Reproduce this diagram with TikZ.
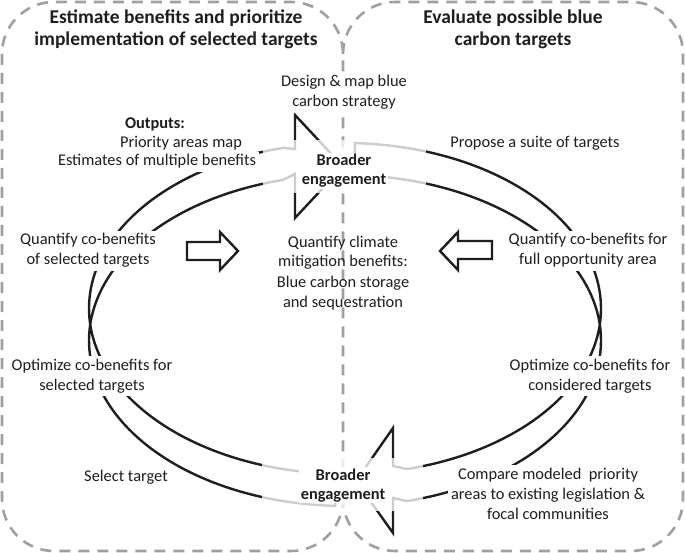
\documentclass[tikz,border=0pt]{standalone}
\usepackage{fontspec}
\setmainfont{Carlito}
\definecolor{bandblack}{HTML}{1E1E1E}
\definecolor{boxgray}{HTML}{A0A0A0}
\begin{document}
\begin{tikzpicture}[x=1pt,y=-1pt,
  box/.style={draw=boxgray, line width=2.6pt, dash pattern=on 11pt off 8pt, rounded corners=52pt},
  band/.style={draw=bandblack, line width=2.4pt, line join=miter},
  hollow/.style={draw=bandblack, fill=white, line width=2.4pt, line join=miter},
  fade/.style={fill=white, fill opacity=0.78},
  lbl/.style={font=\fontsize{16.4}{20}\selectfont, align=center, inner sep=3pt, fill=white, anchor=base, text=bandblack},
  bl/.style={lbl, font=\fontsize{16.4}{19}\selectfont\bfseries},
  ttl/.style={lbl, font=\fontsize{19.5}{22}\selectfont\bfseries, fill=none}
]
\useasboundingbox (0,0) rectangle (685,553);
% dashed boxes
\draw[box] (2,2) rectangle (343,551);
\draw[box] (343,54) -- (343,2) -- (683,2) -- (683,551) -- (343,551) -- (343,499);
% left band (bottom tail -> up the left side -> top arrowhead)
\draw[band] plot[domain=92.2:256, samples=90] ({345+256*cos(\x)},{308.5+165.5*sin(\x)})
  -- (295,149) -- (295,115) -- (343,166.5) -- (295,218) -- (295,174)
  -- plot[domain=256:92.2, samples=90] ({345+256*cos(\x)},{340.5+165.5*sin(\x)}) -- cycle;
% right band (top tail -> down the right side -> bottom arrowhead)
\draw[band] plot[domain=-87.8:76, samples=90] ({345+256*cos(\x)},{308.5+165.5*sin(\x)})
  -- (393,466) -- (393,428) -- (356,481) -- (393,533) -- (393,498)
  -- plot[domain=76:-87.8, samples=90] ({345+256*cos(\x)},{340.5+165.5*sin(\x)}) -- cycle;
% faded zones around "Broader engagement"
\fill[fade] (263,140) rectangle (426,193);
\fill[fade] (262,458) rectangle (423,511);
% hollow arrows
\draw[hollow] (187,242) -- (220,242) -- (220,232) -- (238,251) -- (220,270) -- (220,260) -- (187,260) -- cycle;
\draw[hollow] (492,241) -- (458,241) -- (458,232) -- (440,251) -- (458,270) -- (458,259) -- (492,259) -- cycle;
% titles
\node[ttl] (tl) at (176,46) {Estimate benefits and prioritize\\implementation of selected targets};
\node[ttl] (tr) at (513,46) {Evaluate possible blue\\carbon targets};
% labels
\node[lbl] (design) at (344,107) {Design \& map blue\\carbon strategy};
\node[bl] (outh) at (155,129) {Outputs:};
\node[lbl] (out1) at (181,148) {Priority areas map};
\node[lbl] (out2) at (157,166) {Estimates of multiple benefits};
\node[bl, inner sep=1.5pt] (be1) at (344,185) {Broader\\engagement};
\node[lbl, fill=none] (prop) at (535,148) {Propose a suite of targets};
\node[lbl] (qsel) at (88,265) {Quantify co-benefits\\of selected targets};
\node[lbl, fill=none] (qclim) at (343,307) {Quantify climate\\mitigation benefits:\\Blue carbon storage\\and sequestration};
\node[lbl] (qfull) at (588,265) {Quantify co-benefits for\\full opportunity area};
\node[lbl] (osel) at (92,390) {Optimize co-benefits for\\selected targets};
\node[lbl] (ocon) at (590,390) {Optimize co-benefits for\\considered targets};
\node[lbl, fill=none] (sel) at (126,481) {Select target};
\node[bl, inner sep=1.5pt] (be2) at (343,499) {Broader\\engagement};
\node[lbl] (comp) at (548,519) {Compare modeled\ \ priority\\areas to existing legislation \&\\focal communities};
\end{tikzpicture}
\end{document}
